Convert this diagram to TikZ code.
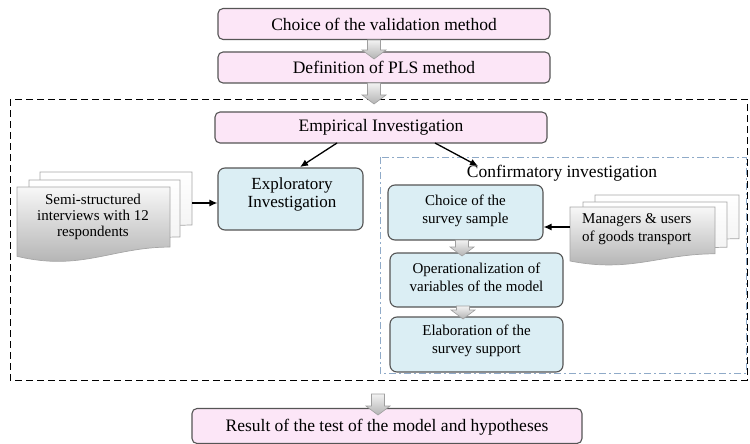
\documentclass[tikz,border=0pt]{standalone}
\usepackage{fontspec}
\setmainfont{Liberation Serif}
\usetikzlibrary{arrows.meta,calc}
\definecolor{pinkfill}{HTML}{FCE6F7}
\definecolor{bluefill}{HTML}{DBEEF4}
\definecolor{boxline}{HTML}{555555}
\definecolor{confline}{HTML}{8FAAC8}
\newcommand\blkarrow[3]{% x, ytop, ybottom
  \path[blockarr] (#1-6.5,#2) -- (#1+6.5,#2) -- (#1+6.5,#3-9) -- (#1+12,#3-9) -- (#1,#3) -- (#1-12,#3-9) -- (#1-6.5,#3-9) -- cycle;}
\newcommand\docpath[4]{% x y w h
  (#1,#2) -- (#1+#3,#2) -- (#1+#3,#2+0.78*#4) .. controls (#1+0.62*#3,#2+0.78*#4) and (#1+0.42*#3,#2+1.1*#4) .. (#1,#2+0.9*#4) -- cycle}
\begin{document}
\begin{tikzpicture}[x=1pt,y=-1pt,
  pinkbox/.style={draw=boxline,fill=pinkfill,rounded corners=5pt,line width=1.1pt,inner sep=0pt},
  bluebox/.style={draw=boxline,fill=bluefill,rounded corners=7pt,line width=1.1pt,inner sep=0pt},
  bigtxt/.style={align=center,font=\fontsize{17.5}{20}\selectfont,inner sep=0pt},
  midtxt/.style={align=center,font=\fontsize{17}{18}\selectfont,inner sep=0pt},
  smalltxt/.style={align=center,font=\fontsize{15}{18}\selectfont,inner sep=0pt},
  blockarr/.style={draw=gray!75,line width=0.6pt,top color=gray!10,bottom color=gray!60},
  docback/.style={draw=gray!70,line width=0.7pt,top color=white,bottom color=gray!12},
  docfront/.style={draw=gray!70,line width=0.7pt,top color=gray!6,bottom color=gray!65},
  conn/.style={-{Latex[length=8pt,width=7pt]},line width=1.3pt,black}]
\useasboundingbox (0,0) rectangle (750,444);
% outer dashed frame
\draw[line width=1pt,dash pattern=on 7pt off 4pt] (10,99) rectangle (747,380);
% confirmatory frame
\draw[confline,line width=1pt,dash pattern=on 7pt off 3pt on 2pt off 3pt] (380,157) rectangle (746,373);
\node[bigtxt] (conf) at (562,173) {Confirmatory investigation};
% pink boxes
\node[pinkbox,minimum width=332pt,minimum height=31pt] (b1) at (384,24) {};
\node[bigtxt] at (b1.center) {Choice of the validation method};
\node[pinkbox,minimum width=332pt,minimum height=31pt] (b2) at (384,67.5) {};
\node[bigtxt] at (b2.center) {Definition of PLS method};
\node[pinkbox,minimum width=332pt,minimum height=31pt] (emp) at (381,127.5) {};
\node[bigtxt] at (emp.center) {Empirical Investigation};
\node[pinkbox,minimum width=390pt,minimum height=35pt] (res) at (387,426) {};
\node[bigtxt] at (387,427) {Result of the test of the model and hypotheses};
% blue boxes
\node[bluebox,minimum width=145pt,minimum height=62pt] (expl) at (290.5,199) {};
\node[midtxt] at (292,194) {Exploratory\\Investigation};
\node[bluebox,minimum width=155pt,minimum height=55pt] (choice) at (465.5,212.5) {};
\node[smalltxt] at (465.5,211) {Choice of the\\survey sample};
\node[bluebox,minimum width=173pt,minimum height=54pt] (oper) at (476.5,280) {};
\node[smalltxt] at (476.5,277.5) {Operationalization of\\variables of the model};
\node[bluebox,minimum width=173pt,minimum height=55pt] (elab) at (476.5,344.5) {};
\node[smalltxt] at (476.5,341) {Elaboration of the\\survey support};
% block arrows
\blkarrow{374}{40}{59}
\blkarrow{374}{83}{104}
\blkarrow{462}{240}{256}
\blkarrow{463}{306}{319}
\blkarrow{378}{394}{415}
% semi-structured document stack
\path[docback] \docpath{40}{172}{152}{68};
\path[docback] \docpath{29}{180}{151}{73};
\path[docfront] \docpath{17}{187}{153}{77};
\node[smalltxt,align=center,font=\fontsize{15}{16}\selectfont] (semi) at (93,217) {Semi-structured\\interviews with 12\\respondents};
% managers document stack
\path[docback] \docpath{595}{195}{144}{56};
\path[docback] \docpath{583}{202}{144}{58};
\path[docfront] \docpath{570}{207}{145}{60};
\node[smalltxt,anchor=west,align=left] (mgr) at (582,229) {Managers \& users\\of goods transport};
% connectors
\coordinate (semiout) at (192,203);
\coordinate (mgrout) at (570,227);
\coordinate (empA) at (337,143);
\coordinate (empB) at (435,143);
\coordinate (explIn) at (300,167);
\coordinate (confIn) at (478,166);
\draw[conn] (semiout) -- (semiout -| expl.west);
\draw[conn] (mgrout) -- (mgrout -| choice.east);
\draw[conn] (empA) -- (explIn);
\draw[conn] (empB) -- (confIn);
\end{tikzpicture}
\end{document}
